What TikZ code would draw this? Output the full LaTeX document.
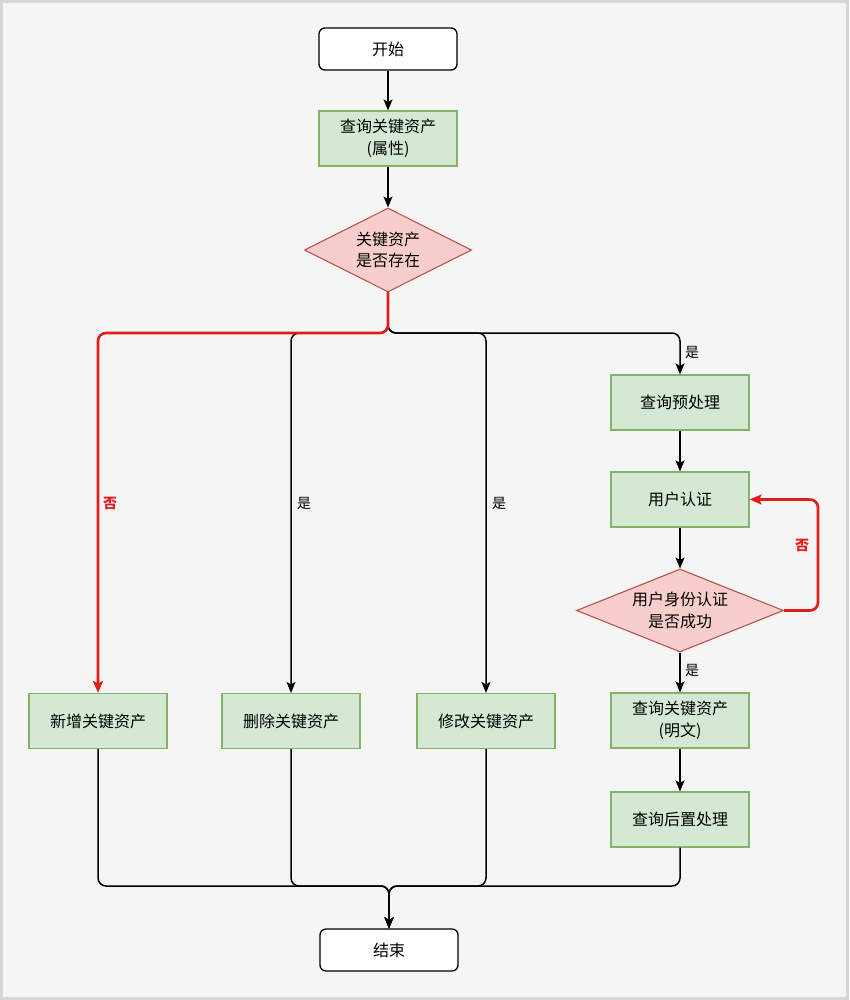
\documentclass[tikz,border=0pt]{standalone}
\usepackage{fontspec}
\newfontfamily\cjk{Noto Sans CJK SC}
\usetikzlibrary{shapes.geometric,arrows.meta}
\definecolor{bgc}{HTML}{F5F5F5}
\definecolor{framec}{HTML}{D6D6D6}
\definecolor{gfill}{HTML}{D5E8D4}
\definecolor{gline}{HTML}{82B366}
\definecolor{rfill}{HTML}{F8CECC}
\definecolor{rline}{HTML}{B85450}
\definecolor{redline}{HTML}{E31B1B}
\tikzset{
  every node/.style={font=\cjk\fontsize{16}{21.5}\selectfont},
  term/.style={draw=black, fill=white, line width=1.3pt, rounded corners=6pt,
    minimum width=138pt, minimum height=42pt, inner sep=0pt},
  proc/.style={draw=gline, fill=gfill, line width=1.2pt,
    minimum width=138pt, minimum height=55pt, inner sep=0pt, align=center},
  dia/.style={shape=diamond, draw=rline, fill=rfill, line width=1.1pt, inner sep=0pt},
  txt/.style={align=center, inner sep=0pt},
  edge/.style={draw=black, line width=1.5pt, rounded corners=8pt,
    -{Stealth[length=11pt,width=9pt,inset=2.5pt]}},
  redge/.style={draw=redline, line width=2.6pt, rounded corners=8pt,
    -{Stealth[length=12pt,width=10pt,inset=2.5pt]}},
  lbl/.style={font=\cjk\fontsize{14}{16}\selectfont, anchor=west, inner sep=0pt},
  rlbl/.style={font=\cjk\bfseries\fontsize{14}{16}\selectfont, text=redline, anchor=west, inner sep=0pt},
}
\begin{document}
\begin{tikzpicture}[x=1pt,y=-1pt]
\useasboundingbox (0,0) rectangle (849,1000);
\fill[bgc] (0,0) rectangle (849,1000);
\draw[framec, line width=3pt] (1.5,1.5) rectangle (847.5,998.5);

\node[term] (start) at (388,49) {开始};
\node[proc] (q1) at (388,138.5) {查询关键资产\\(属性)};
\node[dia, minimum width=167pt, minimum height=84pt] (d1) at (388,250) {};
\node[txt] (d1t) at (388,250) {关键资产\\是否存在};

\node[proc] (new) at (98,721) {新增关键资产};
\node[proc] (del) at (291,721) {删除关键资产};
\node[proc] (mod) at (486,721) {修改关键资产};

\node[proc] (pre) at (680,402.5) {查询预处理};
\node[proc] (auth) at (680,499.5) {用户认证};
\node[dia, minimum width=207pt, minimum height=83pt] (d2) at (680,610.5) {};
\node[txt] (d2t) at (680,610.5) {用户身份认证\\是否成功};
\node[proc] (q2) at (680,720.5) {查询关键资产\\(明文)};
\node[proc] (post) at (680,819.5) {查询后置处理};

\node[term] (end) at (389,950) {结束};

\coordinate (fork) at (388,333);
\coordinate (join) at (389,886);
\coordinate (loop) at (818,610.5);

\draw[edge] (start) -- (q1);
\draw[edge] (q1) -- (d1);

\draw[edge] (d1.south) -- (fork) -| (del.north);
\draw[edge] (d1.south) -- (fork) -| (mod.north);
\draw[edge] (d1.south) -- (fork) -| (pre.north);
\draw[redge] (d1.south) -- (fork) -| (new.north);

\draw[edge] (pre) -- (auth);
\draw[edge] (auth) -- (d2);
\draw[edge] (d2) -- (q2);
\draw[edge] (q2) -- (post);
\draw[redge] (d2.east) -- (loop) |- (auth.east);

\draw[edge] (new.south) |- (join) -- (end.north);
\draw[edge] (del.south) |- (join) -- (end.north);
\draw[edge] (mod.south) |- (join) -- (end.north);
\draw[edge] (post.south) |- (join) -- (end.north);

\node[rlbl] (l1) at (103,503) {否};
\node[lbl] (l2) at (297,503) {是};
\node[lbl] (l3) at (492,503) {是};
\node[lbl] (l4) at (685,352) {是};
\node[lbl] (l5) at (685,670) {是};
\node[rlbl] (l6) at (795,545) {否};
\end{tikzpicture}
\end{document}
